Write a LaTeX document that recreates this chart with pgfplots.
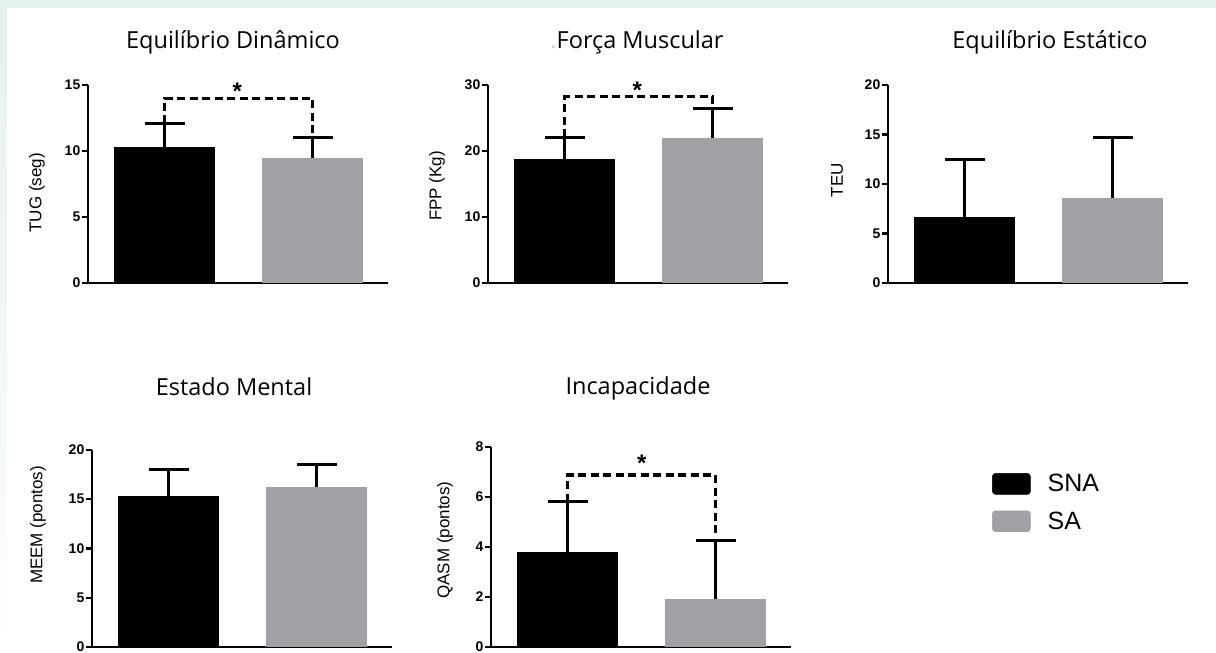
\documentclass[border=0pt]{standalone}
\usepackage{fontspec}
\setmainfont{Liberation Sans}
\newfontfamily\titlefont{Open Sans}
\usepackage{pgfplots}
\pgfplotsset{compat=1.18}
\definecolor{bargray}{RGB}{160,160,165}
\definecolor{mint}{RGB}{229,241,237}
\tikzset{sig/.style={line width=3.2pt, dash pattern=on 8pt off 4.5pt}}
\pgfplotsset{
  panel/.style={
    scale only axis, width=300pt, anchor=south west,
    xmin=-0.52, xmax=1.51, ymin=0,
    axis x line=bottom, axis y line=left,
    axis line style={-, line width=2.4pt, black},
    xtick=\empty,
    tick align=outside, major tick length=6pt,
    ytick style={line width=2.4pt, black},
    yticklabel style={font=\bfseries\fontsize{14}{14}\selectfont, inner sep=1.5pt},
    /pgf/number format/assume math mode=true,
    ylabel style={font=\fontsize{17}{17}\selectfont, anchor=center},
    clip=false,
  },
  sbar/.style={ybar, bar width=101pt, bar shift=0pt, draw=none, fill=#1,
    error bars/y dir=plus, error bars/y explicit,
    error bars/error mark=|,
    error bars/error bar style={line width=3pt, black, solid},
    error bars/error mark options={line width=3pt, mark size=20pt, black, solid}},
}
\begin{document}
\begin{tikzpicture}[x=1pt,y=1pt]
\fill[white] (0,0) rectangle (1216,653);
\fill[mint] (0,645) rectangle (1216,653);
\shade[top color=mint, bottom color=white] (0,0) rectangle (7,645);

% titles
\node[font=\titlefont\fontsize{23.5}{23.5}\selectfont] at (233,611) {Equilíbrio Dinâmico};
\node[font=\titlefont\fontsize{23.5}{23.5}\selectfont] at (637,611) {{\color{gray!40}.}Força Muscular};
\node[font=\titlefont\fontsize{23.5}{23.5}\selectfont] at (1050,611) {Equilíbrio Estático};
\node[font=\titlefont\fontsize{23.5}{23.5}\selectfont] at (234,266) {Estado Mental};
\node[font=\titlefont\fontsize{23.5}{23.5}\selectfont] at (638,265) {Incapacidade};

% Panel 1
\begin{axis}[panel, at={(88pt,370pt)}, height=198pt, ymax=15, ytick={0,5,10,15},
  ylabel={TUG (seg)}, ylabel style={at={(axis description cs:-0.17,0.455)}}]
\addplot[sbar=black] coordinates {(0,10.3) +- (0,1.8)};
\addplot[sbar=bargray] coordinates {(1,9.5) +- (0,1.56)};
\draw[sig] (axis cs:0,12.1) -- (axis cs:0,14) -- (axis cs:1,14) -- (axis cs:1,11.06);
\node[font=\bfseries\fontsize{24}{24}\selectfont, anchor=base] at (axis cs:0.49,13.9) {*};
\end{axis}

% Panel 2
\begin{axis}[panel, at={(488pt,370pt)}, height=198pt, ymax=30, ytick={0,10,20,30},
  ylabel={FPP (Kg)}, ylabel style={at={(axis description cs:-0.17,0.49)}}]
\addplot[sbar=black] coordinates {(0,18.8) +- (0,3.3)};
\addplot[sbar=bargray] coordinates {(1,22.0) +- (0,4.4)};
\draw[sig] (axis cs:0,22.1) -- (axis cs:0,28.2) -- (axis cs:1,28.2) -- (axis cs:1,26.4);
\node[font=\bfseries\fontsize{24}{24}\selectfont, anchor=base] at (axis cs:0.49,28.0) {*};
\end{axis}

% Panel 3
\begin{axis}[panel, at={(888pt,370pt)}, height=198pt, ymax=20, ytick={0,5,10,15,20},
  ylabel={TEU}, ylabel style={at={(axis description cs:-0.17,0.52)}}]
\addplot[sbar=black] coordinates {(0,6.7) +- (0,5.8)};
\addplot[sbar=bargray] coordinates {(1,8.6) +- (0,6.1)};
\end{axis}

% Panel 4
\begin{axis}[panel, at={(92pt,6pt)}, height=197pt, ymax=20, ytick={0,5,10,15,20},
  ylabel={MEEM (pontos)}, ylabel style={at={(axis description cs:-0.18,0.62)}}]
\addplot[sbar=black] coordinates {(0,15.3) +- (0,2.7)};
\addplot[sbar=bargray] coordinates {(1,16.2) +- (0,2.3)};
\end{axis}

% Panel 5
\begin{axis}[panel, at={(491pt,6pt)}, height=200pt, ymax=8, ytick={0,2,4,6,8},
  ylabel={QASM (pontos)}, ylabel style={at={(axis description cs:-0.153,0.535)}},
  legend style={at={(axis description cs:1.67,0.87)}, anchor=north west, draw=none, fill=none,
    inner sep=0pt, font=\fontsize{25}{25}\selectfont,
    nodes={inner sep=0pt, anchor=west}, row sep=16pt, column sep=17pt},
  legend cell align=left]
\addplot[forget plot, sbar=black] coordinates {(0,3.8) +- (0,2.0)};
\addplot[forget plot, sbar=bargray] coordinates {(1,1.92) +- (0,2.32)};
\draw[sig] (axis cs:0,5.8) -- (axis cs:0,6.88) -- (axis cs:1,6.88) -- (axis cs:1,4.5);
\node[font=\bfseries\fontsize{24}{24}\selectfont, anchor=base] at (axis cs:0.5,7.0) {*};
\addlegendimage{legend image code/.code={\fill[black, rounded corners=3pt] (0pt,-10.5pt) rectangle (38pt,10.5pt);}}
\addlegendentry{SNA}
\addlegendimage{legend image code/.code={\fill[bargray, rounded corners=3pt] (0pt,-10.5pt) rectangle (38pt,10.5pt);}}
\addlegendentry{SA}
\end{axis}

\pgfresetboundingbox
\useasboundingbox (0,0) rectangle (1216,653);
\end{tikzpicture}
\end{document}
